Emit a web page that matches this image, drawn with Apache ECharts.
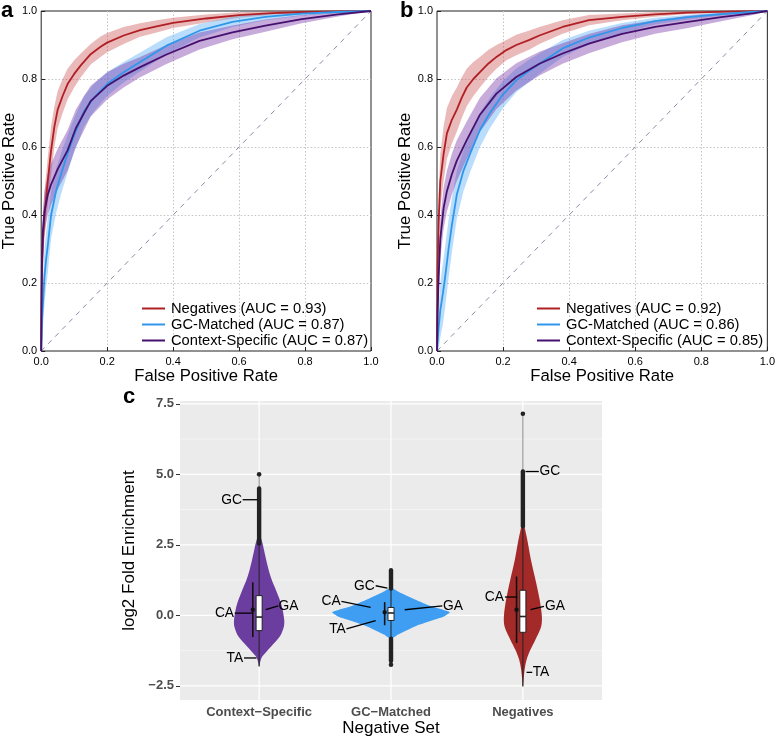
<!DOCTYPE html>
<html><head><meta charset="utf-8">
<script src="https://cdn.jsdelivr.net/npm/echarts@6/dist/echarts.min.js"></script>
<style>html,body{margin:0;padding:0;background:#fff}#c{width:778px;height:738px}</style>
</head><body><div id="c"></div>
<script>
// ================= DATA =================
const rocNames = ['Negatives', 'GC-Matched', 'Context-Specific'];
const aucA = ['0.93', '0.87', '0.87'];
const aucB = ['0.92', '0.86', '0.85'];
const chanceLine = [[0, 0], [1, 1]];

// Panel a
const aNegFpr = [0, 0.002, 0.005, 0.01, 0.015, 0.02, 0.03, 0.04, 0.05, 0.065, 0.08, 0.1, 0.12, 0.15, 0.18, 0.2, 0.25, 0.3, 0.35, 0.4, 0.5, 0.6, 0.7, 0.8, 0.9, 1.0];
const aNegTpr = [0, 0.22, 0.32, 0.40, 0.45, 0.50, 0.59, 0.66, 0.71, 0.75, 0.785, 0.815, 0.84, 0.873, 0.895, 0.907, 0.928, 0.944, 0.955, 0.965, 0.978, 0.988, 0.994, 0.997, 0.999, 1.0];
const aNegBand = [0, 0.06, 0.07, 0.07, 0.07, 0.07, 0.07, 0.06, 0.055, 0.05, 0.045, 0.04, 0.035, 0.03, 0.03, 0.028, 0.025, 0.02, 0.018, 0.015, 0.012, 0.008, 0.005, 0.003, 0.002, 0];
const aGcFpr = [0, 0.003, 0.01, 0.015, 0.02, 0.03, 0.045, 0.06, 0.08, 0.1, 0.13, 0.16, 0.2, 0.25, 0.3, 0.38, 0.48, 0.58, 0.68, 0.79, 0.9, 1.0];
const aGcTpr = [0, 0.10, 0.22, 0.27, 0.31, 0.40, 0.47, 0.52, 0.58, 0.635, 0.705, 0.745, 0.785, 0.82, 0.85, 0.898, 0.942, 0.968, 0.983, 0.992, 0.997, 1.0];
const aGcBand = [0, 0.06, 0.08, 0.08, 0.08, 0.07, 0.065, 0.06, 0.055, 0.05, 0.045, 0.04, 0.035, 0.03, 0.028, 0.025, 0.02, 0.015, 0.01, 0.006, 0.003, 0];
const aCsFpr = [0, 0.002, 0.005, 0.01, 0.02, 0.03, 0.05, 0.08, 0.105, 0.13, 0.15, 0.2, 0.25, 0.3, 0.38, 0.48, 0.58, 0.68, 0.79, 0.9, 1.0];
const aCsTpr = [0, 0.25, 0.35, 0.41, 0.46, 0.49, 0.535, 0.59, 0.655, 0.70, 0.735, 0.78, 0.81, 0.835, 0.872, 0.912, 0.937, 0.957, 0.976, 0.99, 1.0];
const aCsBand = [0, 0.05, 0.06, 0.06, 0.06, 0.06, 0.06, 0.06, 0.055, 0.05, 0.045, 0.04, 0.035, 0.03, 0.028, 0.025, 0.02, 0.018, 0.012, 0.006, 0];

// Panel b
const bNegFpr = [0, 0.002, 0.005, 0.01, 0.02, 0.03, 0.045, 0.06, 0.075, 0.09, 0.11, 0.13, 0.155, 0.18, 0.21, 0.24, 0.28, 0.31, 0.38, 0.46, 0.56, 0.66, 0.76, 0.88, 1.0];
const bNegTpr = [0, 0.25, 0.38, 0.50, 0.58, 0.64, 0.68, 0.71, 0.745, 0.775, 0.80, 0.82, 0.845, 0.865, 0.885, 0.90, 0.915, 0.928, 0.953, 0.973, 0.983, 0.99, 0.995, 0.998, 1.0];
const bNegBand = [0, 0.07, 0.08, 0.08, 0.08, 0.075, 0.07, 0.065, 0.06, 0.055, 0.05, 0.045, 0.04, 0.035, 0.03, 0.03, 0.028, 0.025, 0.02, 0.015, 0.01, 0.007, 0.004, 0.002, 0];
const bGcFpr = [0, 0.005, 0.01, 0.018, 0.025, 0.035, 0.045, 0.06, 0.08, 0.1, 0.13, 0.16, 0.2, 0.24, 0.28, 0.31, 0.38, 0.46, 0.56, 0.66, 0.76, 0.86, 0.95, 1.0];
const bGcTpr = [0, 0.07, 0.12, 0.17, 0.22, 0.30, 0.37, 0.46, 0.53, 0.58, 0.65, 0.70, 0.755, 0.796, 0.825, 0.845, 0.89, 0.922, 0.95, 0.97, 0.982, 0.991, 0.997, 1.0];
const bGcBand = [0, 0.06, 0.08, 0.09, 0.09, 0.085, 0.08, 0.07, 0.06, 0.055, 0.05, 0.045, 0.04, 0.035, 0.032, 0.03, 0.025, 0.02, 0.015, 0.01, 0.007, 0.005, 0.002, 0];
const bCsFpr = [0, 0.002, 0.005, 0.01, 0.02, 0.03, 0.045, 0.06, 0.09, 0.13, 0.18, 0.24, 0.31, 0.38, 0.46, 0.56, 0.66, 0.76, 0.86, 0.96, 1.0];
const bCsTpr = [0, 0.12, 0.22, 0.33, 0.42, 0.47, 0.52, 0.56, 0.62, 0.695, 0.757, 0.806, 0.845, 0.875, 0.904, 0.933, 0.953, 0.968, 0.982, 0.994, 1.0];
const bCsBand = [0, 0.05, 0.06, 0.06, 0.06, 0.06, 0.06, 0.06, 0.055, 0.05, 0.045, 0.04, 0.035, 0.03, 0.028, 0.025, 0.02, 0.018, 0.012, 0.005, 0];

// Panel c (violins)
const vGroups = ['Context\u2212Specific', 'GC\u2212Matched', 'Negatives'];
const cTickValues = [-2.5, 0, 2.5, 5, 7.5];
const cTickLabels = ['\u22122.5', '0.0', '2.5', '5.0', '7.5'];
const csViolinY = [-1.81, -1.6, -1.45, -1.1, -0.74, -0.39, -0.15, 0.2, 0.44, 0.75, 1.03, 1.27, 1.62, 1.98, 2.3, 2.57, 2.8];
const csViolinW = [0, 0.011, 0.025, 0.091, 0.158, 0.188, 0.19, 0.178, 0.165, 0.14, 0.116, 0.095, 0.072, 0.053, 0.038, 0.025, 0.008];
const gcViolinY = [-0.86, -0.68, -0.39, -0.15, -0.04, 0.11, 0.2, 0.32, 0.56, 0.79, 1.0];
const gcViolinW = [0, 0.053, 0.182, 0.334, 0.402, 0.447, 0.394, 0.303, 0.182, 0.076, 0];
const negViolinY = [-2.52, -1.93, -1.57, -1.22, -0.86, -0.39, -0.04, 0.56, 1.27, 1.97, 2.57, 3.0, 3.3];
const negViolinW = [0, 0.013, 0.028, 0.057, 0.095, 0.139, 0.144, 0.127, 0.095, 0.061, 0.038, 0.019, 0.004];
const boxQ1 = [-0.54, -0.18, -0.60];
const boxMedian = [-0.06, 0.085, -0.04];
const boxQ3 = [0.70, 0.28, 0.89];
const whiskerLow = [-1.81, -0.83, -2.52];
const whiskerHigh = [2.55, 0.95, 3.16];
const outlierUpperRange = [[2.55, 4.5], [0.95, 1.6], [3.16, 5.1]];
const outlierLowerRange = [null, [-1.62, -0.83], null];
const outlierSingles = [[5.0], [-1.75], [7.15]];
const meanValue = [0.2, 0.11, 0.2];
const meanLow = [-0.77, -0.35, -0.98];
const meanHigh = [1.17, 0.47, 1.38];
const dinucs = ['GC', 'CA', 'GA', 'TA'];
const dinucTextY = [[4.1, 0.08, 0.34, -1.51], [1.05, 0.5, 0.34, -0.48], [5.1, 0.65, 0.32, -2.02]];
const dinucPointY = [[4.1, 0.08, 0.2, -1.51], [0.97, 0.28, 0.2, -0.19], [5.1, 0.65, 0.2, -2.02]];

// ================= LAYOUT / STYLE =================
const SANS = '"Liberation Sans", Arial, sans-serif';
const rocColors = ['#b01f24', '#2f97ea', '#46106e'];
const bandColors = ['rgba(196,60,60,0.36)', 'rgba(70,165,245,0.38)', 'rgba(115,45,165,0.40)'];
const violinColors = ['#6b3d9e', '#3f9ef2', '#a42a2a'];
// label offsets (x, in category units from violin centre): [textX, lineStartX, lineEndX]
const labelOffsets = [
  [[-0.131, -0.125, -0.012], [-0.19, -0.185, -0.045], [0.147, 0.145, 0.05], [-0.121, -0.115, -0.02]],
  [[-0.124, -0.116, -0.027], [-0.381, -0.376, -0.154], [0.394, 0.389, 0.104], [-0.343, -0.338, -0.116]],
  [[0.127, 0.121, 0.02], [-0.144, -0.136, -0.042], [0.167, 0.16, 0.058], [0.074, 0.071, 0.028]]
];
const meanOffset = -0.048;
const boxHalf = 0.023;

function pairs(xs, ys) { return xs.map((x, i) => [x, ys[i]]); }

function bandSeries(idx, fpr, tpr, bw, color) {
  return {
    type: 'custom', xAxisIndex: idx, yAxisIndex: idx, z: 1, silent: true, clip: true,
    data: [[0, 0]],
    renderItem: function (params, api) {
      const pts = [];
      for (let i = 0; i < fpr.length; i++) pts.push(api.coord([fpr[i], Math.min(1, tpr[i] + bw[i])]));
      for (let i = fpr.length - 1; i >= 0; i--) pts.push(api.coord([fpr[i], Math.max(0, tpr[i] - bw[i])]));
      return { type: 'polygon', shape: { points: pts }, style: { fill: color } };
    }
  };
}
function lineSeries(idx, name, fpr, tpr, color) {
  return {
    type: 'line', name: name, xAxisIndex: idx, yAxisIndex: idx, z: 3, symbol: 'none',
    data: pairs(fpr, tpr), lineStyle: { color: color, width: 1.8 }, itemStyle: { color: color },
    silent: true, animation: false
  };
}
function chanceSeries(idx) {
  return {
    type: 'line', xAxisIndex: idx, yAxisIndex: idx, z: 2, symbol: 'none', silent: true,
    data: chanceLine, lineStyle: { color: '#8c8aa6', width: 1, type: [5, 5] }
  };
}

const rocSets = [
  [[aNegFpr, aNegTpr, aNegBand], [aGcFpr, aGcTpr, aGcBand], [aCsFpr, aCsTpr, aCsBand]],
  [[bNegFpr, bNegTpr, bNegBand], [bGcFpr, bGcTpr, bGcBand], [bCsFpr, bCsTpr, bCsBand]]
];
const aucs = [aucA, aucB];

const series = [];
const legends = [];
[0, 1].forEach(p => {
  series.push(chanceSeries(p));
  rocSets[p].forEach((s, k) => series.push(bandSeries(p, s[0], s[1], s[2], bandColors[k])));
  const names = [];
  rocSets[p].forEach((s, k) => {
    const nm = rocNames[k] + ' (AUC = ' + aucs[p][k] + ')';
    names.push(nm);
    series.push(lineSeries(p, nm, s[0], s[1], rocColors[k]));
  });
  legends.push({
    data: names, orient: 'vertical', left: p === 0 ? 142 : 537, top: 301,
    icon: 'rect', itemWidth: 23, itemHeight: 2, itemGap: 1, selectedMode: false,
    textStyle: { fontFamily: SANS, fontSize: 14.7, color: '#000', lineHeight: 14, padding: [0, 0, 0, 1] },
    padding: 0
  });
});

// Panel c gridlines
const cMajor = [-2.5, 0, 2.5, 5, 7.5];
const cMinor = [-1.25, 1.25, 3.75, 6.25];
series.push({
  type: 'custom', xAxisIndex: 2, yAxisIndex: 2, z: 1, silent: true, data: [[1, 0]],
  renderItem: function (params, api) {
    const ch = [];
    cMinor.forEach(v => { const a = api.coord([0.4, v]), b = api.coord([3.6, v]);
      ch.push({ type: 'line', shape: { x1: a[0], y1: a[1], x2: b[0], y2: b[1] }, style: { stroke: '#fafafa', lineWidth: 0.6 } }); });
    cMajor.forEach(v => { const a = api.coord([0.4, v]), b = api.coord([3.6, v]);
      ch.push({ type: 'line', shape: { x1: a[0], y1: a[1], x2: b[0], y2: b[1] }, style: { stroke: '#ffffff', lineWidth: 1.2 } }); });
    [1, 2, 3].forEach(v => { const a = api.coord([v, -3]), b = api.coord([v, 7.6]);
      ch.push({ type: 'line', shape: { x1: a[0], y1: a[1], x2: b[0], y2: b[1] }, style: { stroke: '#ffffff', lineWidth: 1.2 } }); });
    return { type: 'group', children: ch };
  }
});

const violinYs = [csViolinY, gcViolinY, negViolinY];
const violinWs = [csViolinW, gcViolinW, negViolinW];
[0, 1, 2].forEach(g => {
  series.push({
    type: 'custom', xAxisIndex: 2, yAxisIndex: 2, z: 2, silent: true, data: [[g + 1, 0]],
    renderItem: function (params, api) {
      const cx = g + 1, ch = [];
      const vy = violinYs[g], vw = violinWs[g];
      const pts = [];
      for (let i = 0; i < vy.length; i++) pts.push(api.coord([cx - vw[i], vy[i]]));
      for (let i = vy.length - 1; i >= 0; i--) pts.push(api.coord([cx + vw[i], vy[i]]));
      const allMax = Math.max(whiskerHigh[g], ...outlierSingles[g], outlierUpperRange[g] ? outlierUpperRange[g][1] : -99);
      const allMin = Math.min(whiskerLow[g], ...outlierSingles[g]);
      const t1 = api.coord([cx, allMin]), t2 = api.coord([cx, allMax]);
      ch.push({ type: 'line', shape: { x1: t1[0], y1: t1[1], x2: t2[0], y2: t2[1] }, style: { stroke: '#666', lineWidth: 0.8 } });
      ch.push({ type: 'polygon', shape: { points: pts, smooth: g === 1 ? 0.15 : 0.3 }, style: { fill: violinColors[g] } });
      const w1 = api.coord([cx, whiskerLow[g]]), w2 = api.coord([cx, whiskerHigh[g]]);
      ch.push({ type: 'line', shape: { x1: w1[0], y1: w1[1], x2: w2[0], y2: w2[1] }, style: { stroke: '#222', lineWidth: 1 } });
      [outlierUpperRange[g], outlierLowerRange[g]].forEach(r => {
        if (!r) return;
        const o1 = api.coord([cx, r[0]]), o2 = api.coord([cx, r[1]]);
        ch.push({ type: 'line', shape: { x1: o1[0], y1: o1[1], x2: o2[0], y2: o2[1] }, style: { stroke: '#222', lineWidth: 4.4, lineCap: 'round' } });
      });
      outlierSingles[g].forEach(v => {
        const o = api.coord([cx, v]);
        ch.push({ type: 'circle', shape: { cx: o[0], cy: o[1], r: 2.3 }, style: { fill: '#222' } });
      });
      const bl = api.coord([cx - boxHalf, boxQ3[g]]), br = api.coord([cx + boxHalf, boxQ1[g]]);
      ch.push({ type: 'rect', shape: { x: bl[0], y: bl[1], width: br[0] - bl[0], height: br[1] - bl[1] }, style: { fill: '#fff', stroke: '#222', lineWidth: 1 } });
      const m1 = api.coord([cx - boxHalf, boxMedian[g]]), m2 = api.coord([cx + boxHalf, boxMedian[g]]);
      ch.push({ type: 'line', shape: { x1: m1[0], y1: m1[1], x2: m2[0], y2: m2[1] }, style: { stroke: '#222', lineWidth: 1.6 } });
      const p1 = api.coord([cx + meanOffset, meanLow[g]]), p2 = api.coord([cx + meanOffset, meanHigh[g]]);
      ch.push({ type: 'line', shape: { x1: p1[0], y1: p1[1], x2: p2[0], y2: p2[1] }, style: { stroke: '#111', lineWidth: 1.6 } });
      const pm = api.coord([cx + meanOffset, meanValue[g]]);
      ch.push({ type: 'circle', shape: { cx: pm[0], cy: pm[1], r: 2.2 }, style: { fill: '#111' } });
      return { type: 'group', children: ch };
    }
  });
});

series.push({
  type: 'custom', xAxisIndex: 2, yAxisIndex: 2, z: 4, silent: true, data: [[1, 0]],
  renderItem: function (params, api) {
    const ch = [];
    [0, 1, 2].forEach(g => {
      dinucs.forEach((d, k) => {
        const off = labelOffsets[g][k];
        const cx = g + 1;
        const tp = api.coord([cx + off[0], dinucTextY[g][k]]);
        const a = api.coord([cx + off[1], dinucTextY[g][k]]);
        const b = api.coord([cx + off[2], dinucPointY[g][k]]);
        ch.push({ type: 'line', shape: { x1: a[0], y1: a[1], x2: b[0], y2: b[1] }, style: { stroke: '#000', lineWidth: 1.3 } });
        ch.push({ type: 'text', x: tp[0], y: tp[1], style: { text: d, fill: '#000', font: '13.8px ' + SANS, align: off[0] < 0 ? 'right' : 'left', verticalAlign: 'middle' } });
      });
    });
    return { type: 'group', children: ch };
  }
});

function rocX(idx) {
  return {
    gridIndex: idx, type: 'value', min: 0, max: 1, interval: 0.2,
    name: 'False Positive Rate', nameLocation: 'middle', nameGap: 16,
    nameTextStyle: { fontFamily: SANS, fontSize: 16.7, color: '#000' },
    axisLine: { show: false }, axisTick: { show: true, inside: true, length: 4, lineStyle: { color: '#222' } },
    axisLabel: { fontFamily: SANS, fontSize: 11, color: '#000', margin: 5, formatter: v => v.toFixed(1) },
    splitLine: { show: true, showMinLine: false, showMaxLine: false, lineStyle: { type: [1.5, 2], color: '#c4c4c4' } }
  };
}
function rocY(idx) {
  return {
    gridIndex: idx, type: 'value', min: 0, max: 1, interval: 0.2,
    name: 'True Positive Rate', nameLocation: 'middle', nameGap: 18,
    nameTextStyle: { fontFamily: SANS, fontSize: 16.7, color: '#000' },
    axisLine: { show: false }, axisTick: { show: true, inside: true, length: 4, lineStyle: { color: '#222' } },
    axisLabel: { fontFamily: SANS, fontSize: 11, color: '#000', margin: 4, formatter: v => v.toFixed(1) },
    splitLine: { show: true, showMinLine: false, showMaxLine: false, lineStyle: { type: [1.5, 2], color: '#c4c4c4' } }
  };
}

const option = {
  animation: false,
  backgroundColor: '#fff',
  grid: [
    { left: 40, top: 11, width: 331, height: 340, show: true, borderColor: '#222', borderWidth: 1, backgroundColor: '#fff' },
    { left: 437, top: 11, width: 331, height: 340, show: true, borderColor: '#222', borderWidth: 1, backgroundColor: '#fff' },
    { left: 180, top: 401, width: 422, height: 299, show: true, borderWidth: 0, backgroundColor: '#ebebeb' }
  ],
  legend: legends,
  xAxis: [rocX(0), rocX(1), {
    gridIndex: 2, type: 'value', min: 0.4, max: 3.6,
    name: 'Negative Set', nameLocation: 'middle', nameGap: 20,
    nameTextStyle: { fontFamily: SANS, fontSize: 17, color: '#000' },
    axisLine: { show: false },
    axisTick: { show: true, customValues: [1, 2, 3], length: 4, lineStyle: { color: '#333' } },
    axisLabel: { customValues: [1, 2, 3], formatter: v => vGroups[Math.round(v) - 1], fontFamily: SANS, fontWeight: 'bold', fontSize: 13, color: '#4d4d4d', margin: 6 },
    splitLine: { show: false }
  }],
  yAxis: [rocY(0), rocY(1), {
    gridIndex: 2, type: 'value', min: -3.0, max: 7.6,
    name: 'log2 Fold Enrichment', nameLocation: 'middle', nameGap: 37,
    nameTextStyle: { fontFamily: SANS, fontSize: 17, color: '#000' },
    axisLine: { show: false },
    axisTick: { show: true, customValues: cTickValues, length: 4, lineStyle: { color: '#333' } },
    axisLabel: { customValues: cTickValues, formatter: v => cTickLabels[cTickValues.indexOf(v)] || '', fontFamily: SANS, fontWeight: 'bold', fontSize: 13, color: '#4d4d4d', margin: 6 },
    splitLine: { show: false }
  }],
  graphic: [
    { type: 'text', left: 1, top: 0, style: { text: 'a', font: 'bold 22px ' + SANS, fill: '#000' } },
    { type: 'text', left: 400, top: 0, style: { text: 'b', font: 'bold 22px ' + SANS, fill: '#000' } },
    { type: 'text', left: 123, top: 386, style: { text: 'c', font: 'bold 22px ' + SANS, fill: '#000' } }
  ],
  series: series
};

const chart = echarts.init(document.getElementById('c'), null, { renderer: 'canvas' });
chart.setOption(option);
</script>
</body></html>
